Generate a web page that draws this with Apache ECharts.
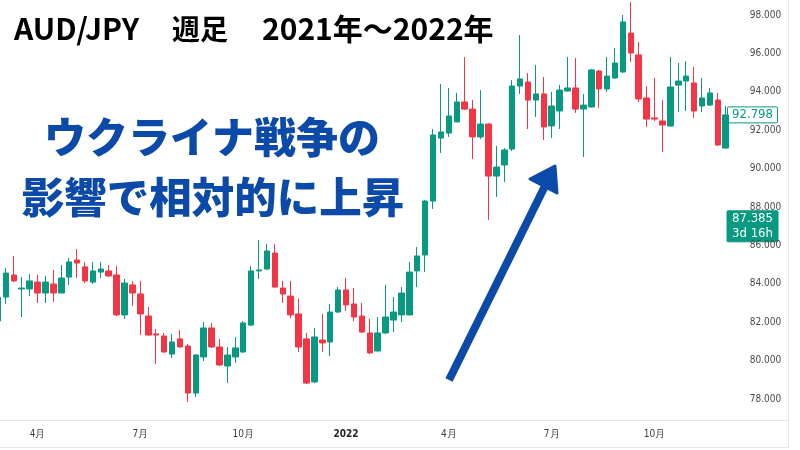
<!DOCTYPE html>
<html>
<head>
<meta charset="utf-8">
<script src="https://cdn.jsdelivr.net/npm/echarts@6/dist/echarts.min.js"></script>
<style>
html,body{margin:0;padding:0;background:#fff;}
#chart{width:800px;height:450px;}
</style>
</head>
<body>
<div id="chart"></div>
<script>
// Weekly candles (Monday of each week)
const weeks = [
 '2021-03-01','2021-03-08','2021-03-15','2021-03-22','2021-03-29',
 '2021-04-05','2021-04-12','2021-04-19','2021-04-26',
 '2021-05-03','2021-05-10','2021-05-17','2021-05-24','2021-05-31',
 '2021-06-07','2021-06-14','2021-06-21','2021-06-28',
 '2021-07-05','2021-07-12','2021-07-19','2021-07-26',
 '2021-08-02','2021-08-09','2021-08-16','2021-08-23','2021-08-30',
 '2021-09-06','2021-09-13','2021-09-20','2021-09-27',
 '2021-10-04','2021-10-11','2021-10-18','2021-10-25',
 '2021-11-01','2021-11-08','2021-11-15','2021-11-22','2021-11-29',
 '2021-12-06','2021-12-13','2021-12-20','2021-12-27',
 '2022-01-03','2022-01-10','2022-01-17','2022-01-24','2022-01-31',
 '2022-02-07','2022-02-14','2022-02-21','2022-02-28',
 '2022-03-07','2022-03-14','2022-03-21','2022-03-28',
 '2022-04-04','2022-04-11','2022-04-18','2022-04-25',
 '2022-05-02','2022-05-09','2022-05-16','2022-05-23','2022-05-30',
 '2022-06-06','2022-06-13','2022-06-20','2022-06-27',
 '2022-07-04','2022-07-11','2022-07-18','2022-07-25',
 '2022-08-01','2022-08-08','2022-08-15','2022-08-22','2022-08-29',
 '2022-09-05','2022-09-12','2022-09-19','2022-09-26',
 '2022-10-03','2022-10-10','2022-10-17','2022-10-24','2022-10-31',
 '2022-11-07','2022-11-14','2022-11-21','2022-11-28',
 '2022-12-05'
];

const opens = [
 82.06,83.31,84.46,83.73,83.73,84.09,83.52,83.99,83.52,84.35,
 85.24,84.88,84.09,84.61,84.67,84.46,82.38,83.94,83.47,82.32,
 81.39,81.28,80.34,81.13,80.76,78.31,80.19,81.70,80.71,79.72,
 80.19,80.45,81.85,84.67,84.77,85.60,83.78,83.36,82.43,81.13,
 78.89,81.07,80.97,82.53,83.68,82.95,82.32,81.44,80.50,81.44,
 82.11,82.38,82.38,84.67,85.50,88.31,91.59,91.85,92.43,93.47,
 93.10,91.65,92.32,89.61,90.19,91.02,94.30,94.51,93.57,93.89,
 92.22,93.00,94.04,94.20,93.10,93.21,95.08,94.15,94.72,95.03,
 97.06,95.92,93.68,92.64,92.48,92.22,94.35,94.56,94.46,93.26,
 93.31,93.57,91.07
];
const closes = [
 83.30,84.56,84.15,83.78,84.15,83.52,84.09,83.52,84.30,85.14,
 85.08,84.15,84.67,84.77,84.41,82.38,84.04,83.52,82.43,81.33,
 81.33,80.45,80.97,80.71,78.31,80.29,81.70,80.71,79.77,80.29,
 80.66,81.96,84.67,84.72,85.71,83.83,83.47,82.38,80.71,78.83,
 81.23,80.92,82.53,83.68,82.90,82.27,81.49,80.40,81.44,82.27,
 82.53,83.52,84.61,85.45,88.31,91.75,91.91,92.74,93.47,93.10,
 91.65,92.32,89.61,90.08,90.97,94.30,94.67,93.57,93.89,92.17,
 93.26,94.09,94.20,93.10,93.31,95.14,94.15,94.82,95.50,97.64,
 96.02,93.63,92.58,92.58,92.27,94.25,94.56,94.82,93.00,93.68,
 93.94,91.23,92.798
];
const lows = [
 81.95,82.95,84.09,82.27,83.36,83.00,83.00,83.05,83.52,83.94,
 84.30,84.04,83.99,84.30,84.35,82.32,82.17,82.84,81.33,81.30,
 79.82,80.40,80.14,80.68,77.84,78.10,79.98,80.66,79.72,78.83,
 79.88,80.40,81.80,84.25,84.72,83.80,83.00,82.22,80.45,78.78,
 78.83,80.45,80.24,82.48,82.58,82.06,81.44,80.34,80.48,81.39,
 81.49,82.01,82.36,83.83,84.61,87.90,90.81,91.65,92.43,93.05,
 90.50,91.54,87.32,88.52,89.30,90.92,93.89,92.06,92.69,91.49,
 91.59,92.06,94.02,92.90,90.60,93.19,93.16,93.99,94.67,94.98,
 95.55,93.47,92.17,92.48,90.86,92.17,92.95,93.00,92.64,92.95,
 93.26,91.18,91.05
];
const highs = [
 83.60,84.82,85.45,84.35,84.51,84.46,84.41,84.72,84.98,85.34,
 85.81,85.14,85.14,85.14,84.98,84.93,84.25,84.15,84.15,82.79,
 81.65,81.44,81.39,81.59,80.86,80.34,82.01,81.96,81.13,80.71,
 81.23,82.06,84.93,86.28,86.07,86.07,84.15,84.15,83.21,81.44,
 81.70,82.43,82.95,83.83,84.30,83.78,83.00,82.17,82.27,83.94,
 83.31,83.83,85.14,85.92,88.36,92.06,94.41,94.20,93.94,95.81,
 93.57,94.09,92.38,91.18,91.07,94.61,96.96,94.98,95.40,94.77,
 93.99,94.35,95.81,95.76,93.89,95.19,95.14,95.81,96.28,98.00,
 98.68,96.59,94.30,94.72,93.57,95.81,95.50,95.60,95.29,94.72,
 94.20,93.94,93.26
];

// time-axis tick labels
const tickWeeks = ['2021-04-05','2021-07-05','2021-10-04','2022-01-03','2022-04-04','2022-07-04','2022-10-03'];
const tickTexts = ['4月','7月','10月','2022','4月','7月','10月'];
const boldTicks = ['2022'];

// price tags on the right scale
const lastPrice = closes[closes.length - 1];
const otherPrice = 87.385;
const otherPriceNote = '3d 16h';

const UP = '#089981', DOWN = '#F23645';
const candles = weeks.map((w, i) => [opens[i], closes[i], lows[i], highs[i]]);
const narrow = '"Liberation Sans Narrow", "DejaVu Sans Condensed", "Liberation Sans", sans-serif';

const chart = echarts.init(document.getElementById('chart'), null, {renderer: 'canvas'});
const option = {
  animation: false,
  backgroundColor: '#ffffff',
  grid: {left: -5.96, right: 70.3, top: -23.4, bottom: 12.6, containLabel: false, outerBoundsMode: 'none'},
  xAxis: {
    type: 'category',
    data: weeks,
    boundaryGap: true,
    offset: -17.4,
    axisLine: {show: false},
    axisTick: {show: false},
    splitLine: {show: false},
    axisLabel: {
      interval: function (idx, val) { return tickWeeks.indexOf(val) >= 0; },
      formatter: function (val) {
        const k = tickWeeks.indexOf(val);
        if (k < 0) return '';
        const t = tickTexts[k];
        return boldTicks.indexOf(t) >= 0 ? '{b|' + t + '}' : t;
      },
      color: '#3d3d3d',
      fontSize: 10,
      fontFamily: narrow,
      margin: 9,
      rich: {b: {fontWeight: 'bold', fontSize: 10, color: '#222', fontFamily: narrow}}
    }
  },
  yAxis: {
    type: 'value',
    position: 'right',
    min: 76, max: 100, interval: 2,
    axisLine: {show: false},
    axisTick: {show: false},
    splitLine: {show: false},
    axisLabel: {
      margin: 20,
      color: '#4a4a4a',
      fontSize: 10,
      fontFamily: narrow,
      formatter: function (v) { return (v < 77 || v > 99) ? '' : v.toFixed(3); }
    }
  },
  series: [{
    type: 'candlestick',
    data: candles,
    barWidth: 6,
    itemStyle: {color: UP, color0: DOWN, borderColor: UP, borderColor0: DOWN, borderWidth: 1}
  }]
};
chart.setOption(option);

const yLast = chart.convertToPixel({yAxisIndex: 0}, lastPrice);
const yOther = chart.convertToPixel({yAxisIndex: 0}, otherPrice);
const blue = '#0b4aa9';
chart.setOption({
  graphic: [
    // frame lines of the price / time scales
    {type: 'line', shape: {x1: 0, y1: 420.5, x2: 789, y2: 420.5}, style: {stroke: '#e3e6ee', lineWidth: 1}, silent: true},
    {type: 'line', shape: {x1: 0, y1: 447.5, x2: 789, y2: 447.5}, style: {stroke: '#e3e6ee', lineWidth: 1}, silent: true},
    {type: 'line', shape: {x1: 788.5, y1: 0, x2: 788.5, y2: 448}, style: {stroke: '#e3e6ee', lineWidth: 1}, silent: true},
    // title
    {type: 'text', x: 14, y: 29, style: {text: 'AUD/JPY', fontSize: 30, fontWeight: 'bold', fontFamily: 'Noto Sans CJK JP', fill: '#000', verticalAlign: 'middle'}},
    {type: 'text', x: 172, y: 29, style: {text: '週足', fontSize: 28, fontWeight: 'bold', fontFamily: 'Noto Sans CJK JP', fill: '#000', verticalAlign: 'middle'}},
    {type: 'text', x: 262, y: 29, style: {text: '2021年～2022年', fontSize: 30, fontWeight: 'bold', fontFamily: 'Noto Sans CJK JP', fill: '#000', verticalAlign: 'middle'}},
    // annotation
    {type: 'text', x: 212, y: 137, style: {text: 'ウクライナ戦争の', fontSize: 42, fontWeight: 900, fontFamily: 'Noto Sans CJK JP', fill: blue, align: 'center', verticalAlign: 'middle'}},
    {type: 'text', x: 213, y: 197, style: {text: '影響で相対的に上昇', fontSize: 42.5, fontWeight: 900, fontFamily: 'Noto Sans CJK JP', fill: blue, align: 'center', verticalAlign: 'middle'}},
    // arrow
    {type: 'line', shape: {x1: 449, y1: 380, x2: 545, y2: 186}, style: {stroke: blue, lineWidth: 8, lineCap: 'butt'}},
    {type: 'polygon', shape: {points: [[530, 179], [555, 166], [557, 193]]}, style: {fill: blue, stroke: blue, lineWidth: 3, lineJoin: 'round'}},
    // last price tag
    {type: 'rect', shape: {x: 727.5, y: yLast - 8, width: 50, height: 16, r: 1}, style: {fill: '#fff', stroke: UP, lineWidth: 1}},
    {type: 'text', x: 752.5, y: yLast, style: {text: lastPrice.toFixed(3), fontSize: 13, fontFamily: narrow, fill: UP, align: 'center', verticalAlign: 'middle'}},
    // second price tag
    {type: 'rect', shape: {x: 727, y: yOther - 8, width: 51, height: 31, r: 1}, style: {fill: UP, stroke: UP, lineWidth: 1}},
    {type: 'text', x: 752.5, y: yOther, style: {text: otherPrice.toFixed(3), fontSize: 13, fontFamily: narrow, fill: '#fff', align: 'center', verticalAlign: 'middle'}},
    {type: 'text', x: 752.5, y: yOther + 15, style: {text: otherPriceNote, fontSize: 13, fontFamily: narrow, fill: '#fff', align: 'center', verticalAlign: 'middle'}}
  ]
});
</script>
</body>
</html>
